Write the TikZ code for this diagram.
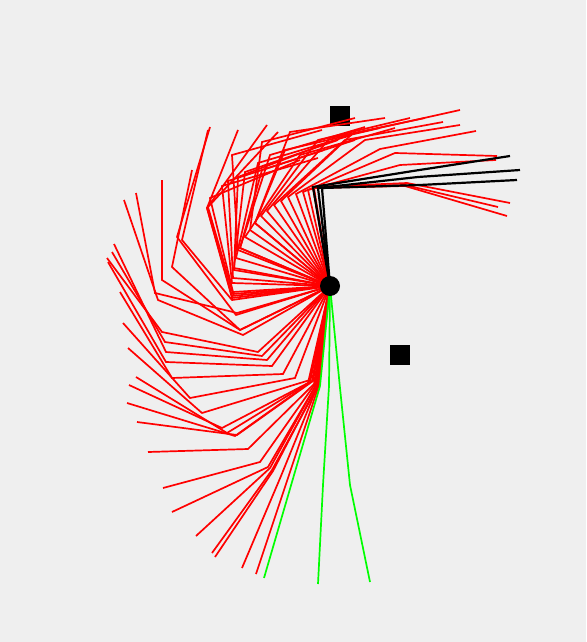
\documentclass[tikz,border=0pt]{standalone}
\definecolor{simbg}{HTML}{EFEFEF}
\definecolor{armred}{HTML}{FF0000}
\definecolor{armgreen}{HTML}{00FF00}

\begin{document}
\begin{tikzpicture}[x=1pt,y=-1pt,
    redarm/.style={draw=armred,line width=1.7pt},
    startarm/.style={draw=armgreen,line width=1.7pt},
    goalarm/.style={draw=black,line width=2.2pt}]
  \fill[simbg] (0,0) rectangle (586,642);
  \useasboundingbox (0,0) rectangle (586,642);
  \coordinate (base) at (330,286);

  % obstacles
  \fill (330,106) rectangle (350,126);
  \fill (390,345) rectangle (410,365);

  % tree of arm poses: elbow / wrist / tip
  \foreach \ax/\ay/\bx/\by/\cx/\cy in {
      319/385/288/478/256/574, 318/385/281/476/242/568,
      318/386/272/470/212/553, 317/386/273/471/215/557,
      316/385/270/468/196/536, 316/385/268/467/172/512,
      315/384/260/462/163/488, 314/384/248/449/148/452,
      310/382/227/433/136/377, 308/383/222/428/129/385,
      312/381/235/436/127/403, 313/381/237/435/137/422,
      295/378/190/398/123/323, 310/380/202/413/128/348,
      283/374/172/378/120/292,
      258/352/162/332/107/258, 262/356/165/342/112/252,
      267/360/166/352/114/244, 272/366/166/362/108/262,
      240/330/162/280/162/180, 240/330/172/267/192/170,
      237/313/155/293/136/193, 243/335/158/300/124/200,
      236/315/177/237/210/127, 232/300/182/240/208/130,
      232/298/207/208/238/130, 232/296/207/208/267/125,
      233/294/208/207/278/132, 233/292/210/198/300/160,
      232/283/222/186/318/158, 233/278/228/181/324/150,
      234/270/238/177/330/142, 234/268/245/172/338/140,
      238/250/232/155/322/130, 240/248/262/170/355/140,
      240/248/270/155/365/127, 236/258/258/163/352/135,
      245/237/300/155/395/128, 250/230/262/142/355/118,
      255/223/285/150/380/128,
      255/223/290/132/385/118, 261/216/318/140/410/118,
      267/211/330/138/425/118, 274/205/345/140/443/122,
      281/201/352/134/460/110, 288/197/365/140/460/125,
      296/194/380/149/476/131, 303/192/395/153/497/156,
      308/190/400/165/496/160, 313/187/407/183/510/203,
      313/187/405/185/498/207, 314/188/405/186/507/216}
    \draw[redarm] (base) -- (\ax,\ay) -- (\bx,\by) -- (\cx,\cy);

  % start poses
  \draw[startarm] (base) -- (320,386) -- (292,482) -- (264,578);
  \draw[startarm] (base) -- (329,386) -- (323,485) -- (318,584);
  \draw[startarm] (base) -- (340,388) -- (350,485) -- (370,582);

  % goal poses
  \draw[goalarm] (base) -- (313,187) -- (413,171) -- (510,156);
  \draw[goalarm] (base) -- (318,188) -- (418,177) -- (520,170);
  \draw[goalarm] (base) -- (322,188) -- (420,185) -- (517,180);

  \node[circle,fill=black,minimum size=20pt,inner sep=0pt] (joint) at (base) {};
\end{tikzpicture}
\end{document}
